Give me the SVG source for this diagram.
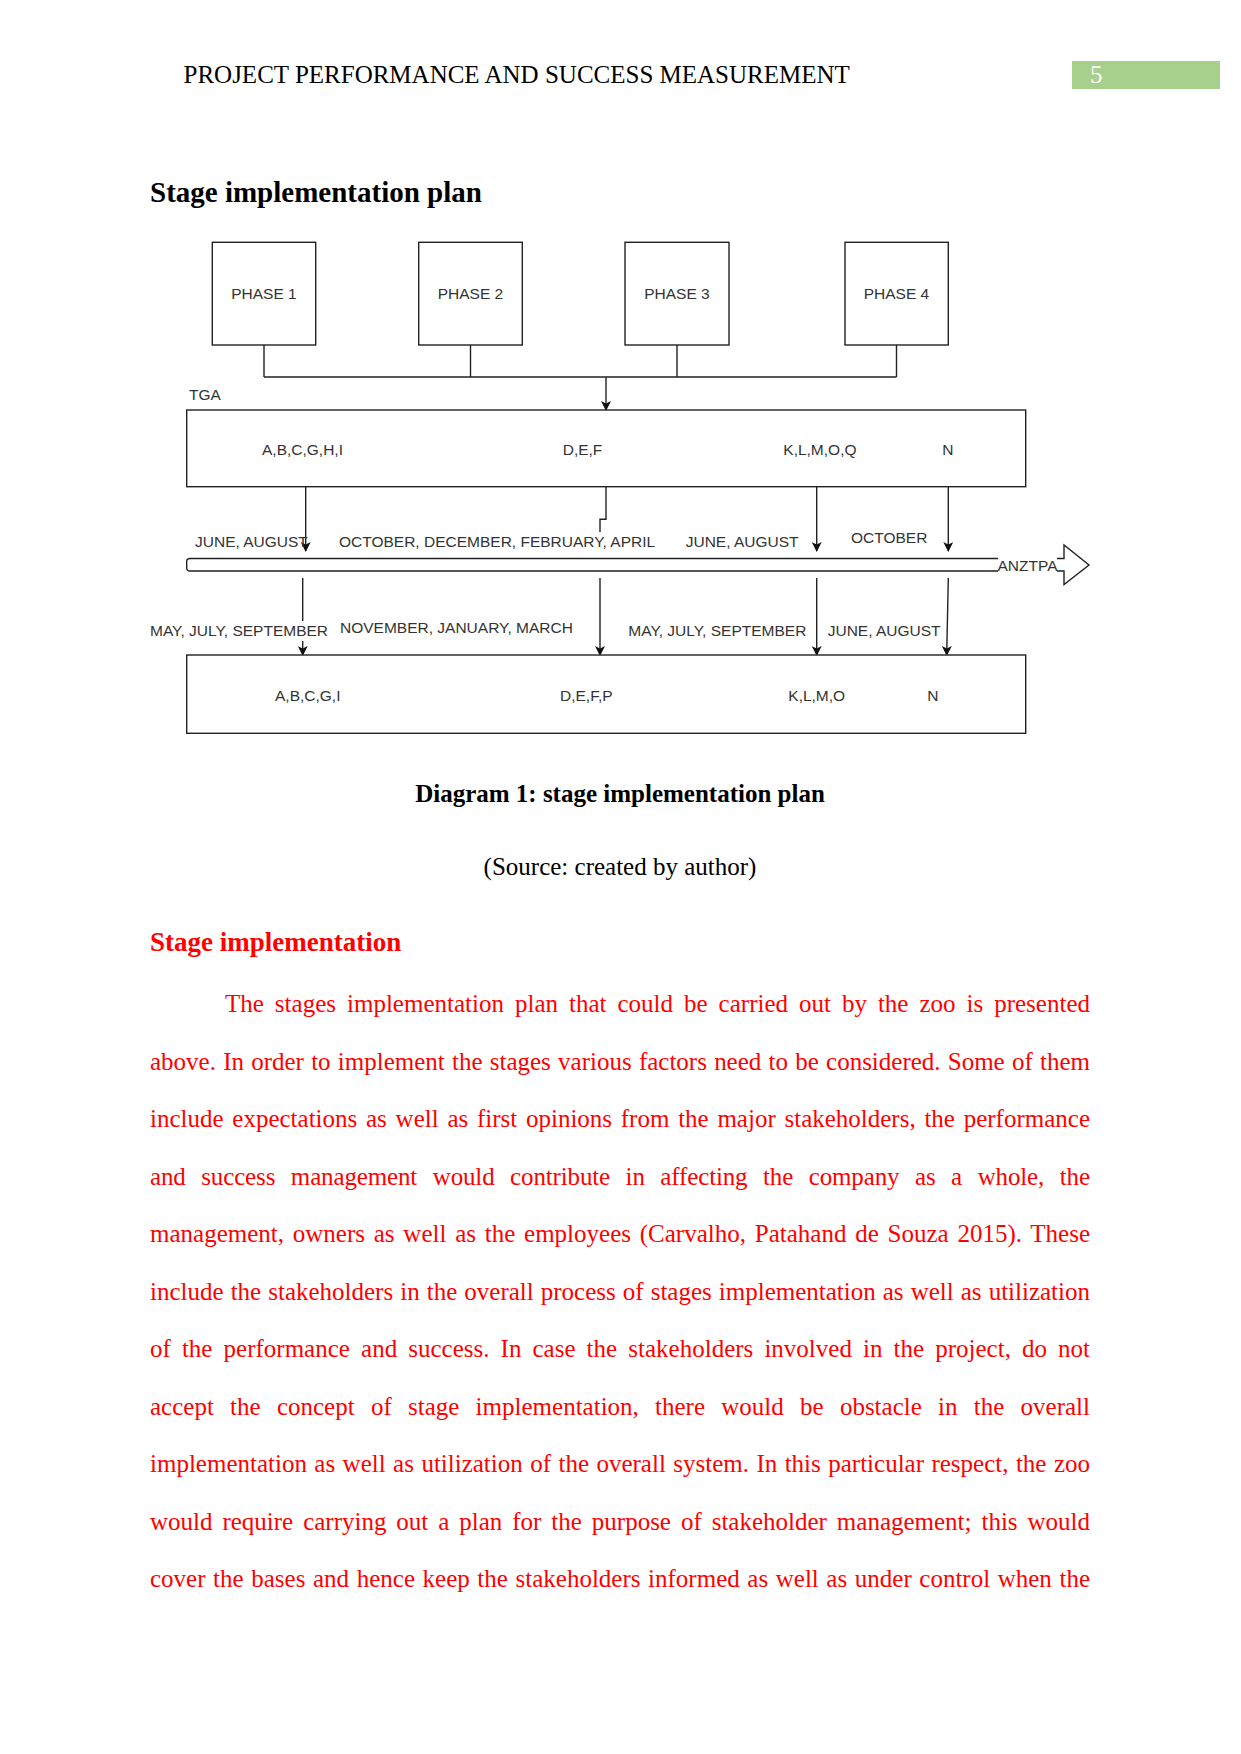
<svg xmlns="http://www.w3.org/2000/svg" width="1241" height="1754" viewBox="0 0 1241 1754">
<defs>
<style>
.serif{font-family:"Liberation Serif","Times New Roman",serif;font-size:25px;fill:#000}
.b{font-weight:bold}
.red{fill:#f00}
.lbl{font-family:"Liberation Sans",Arial,sans-serif;font-size:15.5px;fill:#333}
.box{fill:#fff;stroke:#222;stroke-width:1.4}
.ln{fill:none;stroke:#222;stroke-width:1.4}
.arr{fill:none;stroke:#222;stroke-width:1.4;marker-end:url(#ah)}
.bg{fill:#fff}
</style>
<marker id="ah" viewBox="0 0 10 10" refX="9" refY="5" markerWidth="11" markerHeight="10" markerUnits="userSpaceOnUse" orient="auto">
<path d="M0,0 L10,5 L0,10 L2.5,5 Z" fill="#111"/>
</marker>
</defs>
<rect width="1241" height="1754" fill="#fff"/>

<!-- page header -->
<text class="serif" x="183.5" y="83">PROJECT PERFORMANCE AND SUCCESS MEASUREMENT</text>
<rect x="1072" y="61" width="148" height="28" fill="#a8d08d"/>
<text class="serif" x="1090" y="83" style="fill:#fff">5</text>

<text class="serif b" x="150" y="202" style="font-size:29px">Stage implementation plan</text>

<!-- connectors -->
<g id="connectors">
<path class="ln" d="M264,345 V377 M470.5,345 V377 M677,345 V377 M896.5,345 V377 M264,377 H896.5"/>
<path class="arr" d="M606,377 V410"/>
<path class="arr" d="M305.7,487 V551"/>
<path class="ln" d="M606,487 V519.3 H600 V532"/>
<path class="arr" d="M816.7,487 V551"/>
<path class="arr" d="M948.3,487 V551"/>
<path class="arr" d="M302.7,578 V655"/>
<path class="arr" d="M600,578 V655"/>
<path class="arr" d="M816.7,578 V655"/>
<path class="arr" d="M948.3,578 L946.7,655"/>
</g>

<!-- phase nodes -->
<g id="phase1"><rect class="box" x="212.3" y="242.3" width="103.4" height="102.7"/><text class="lbl" x="264" y="299" text-anchor="middle">PHASE 1</text></g>
<g id="phase2"><rect class="box" x="418.7" y="242.3" width="103.6" height="102.7"/><text class="lbl" x="470.5" y="299" text-anchor="middle">PHASE 2</text></g>
<g id="phase3"><rect class="box" x="625" y="242.3" width="104" height="102.7"/><text class="lbl" x="677" y="299" text-anchor="middle">PHASE 3</text></g>
<g id="phase4"><rect class="box" x="845" y="242.3" width="103.3" height="102.7"/><text class="lbl" x="896.5" y="299" text-anchor="middle">PHASE 4</text></g>

<!-- TGA node -->
<g id="tga">
<text class="lbl" x="189" y="400">TGA</text>
<rect class="box" x="186.7" y="410" width="839" height="76.7"/>
<text class="lbl" x="262" y="455">A,B,C,G,H,I</text>
<text class="lbl" x="562.7" y="455">D,E,F</text>
<text class="lbl" x="783.3" y="455">K,L,M,O,Q</text>
<text class="lbl" x="942.3" y="455">N</text>
</g>

<!-- upper month labels -->
<g id="labels-upper">
<text class="lbl" x="195" y="546.7">JUNE, AUGUST</text>
<rect class="bg" x="337" y="532" width="320" height="20"/>
<text class="lbl" x="339" y="546.7">OCTOBER, DECEMBER, FEBRUARY, APRIL</text>
<text class="lbl" x="685.7" y="546.7">JUNE, AUGUST</text>
<text class="lbl" x="851" y="542.7">OCTOBER</text>
</g>

<!-- timeline arrow (ANZTPA) -->
<g id="timeline">
<path class="box" d="M190,558.5 L1064,558.5 L1064,545 L1089,565 L1064,584.5 L1064,571 L190,571 Q186.7,571 186.7,568 L186.7,561.5 Q186.7,558.5 190,558.5 Z"/>
<rect class="bg" x="998" y="556.5" width="59" height="16.5"/>
<text class="lbl" x="997.5" y="570.5">ANZTPA</text>
</g>

<!-- lower month labels -->
<g id="labels-lower">
<rect class="bg" x="150" y="621" width="180" height="20"/>
<text class="lbl" x="150" y="636">MAY, JULY, SEPTEMBER</text>
<text class="lbl" x="340" y="632.7">NOVEMBER, JANUARY, MARCH</text>
<text class="lbl" x="628.3" y="636">MAY, JULY, SEPTEMBER</text>
<text class="lbl" x="827.7" y="636">JUNE, AUGUST</text>
</g>

<!-- ANZTPA node -->
<g id="anztpa-box">
<rect class="box" x="186.7" y="655" width="839" height="78.3"/>
<text class="lbl" x="275" y="700.7">A,B,C,G,I</text>
<text class="lbl" x="560" y="700.7">D,E,F,P</text>
<text class="lbl" x="788.3" y="700.7">K,L,M,O</text>
<text class="lbl" x="927.3" y="700.7">N</text>
</g>

<text class="serif b" x="620" y="802" text-anchor="middle">Diagram 1: stage implementation plan</text>
<text class="serif" x="620" y="875" text-anchor="middle">(Source: created by author)</text>

<text class="serif b red" x="150" y="951" style="font-size:27px">Stage implementation</text>

<g id="body" class="serif red">
<text class="serif red" x="225" y="1012" word-spacing="4.7" textLength="865" lengthAdjust="spacing">The stages implementation plan that could be carried out by the zoo is presented</text>
<text class="serif red" x="150" y="1069.5" word-spacing="1" textLength="940" lengthAdjust="spacing">above. In order to implement the stages various factors need to be considered. Some of them</text>
<text class="serif red" x="150" y="1127" word-spacing="2.5" textLength="940" lengthAdjust="spacing">include expectations as well as first opinions from the major stakeholders, the performance</text>
<text class="serif red" x="150" y="1184.5" word-spacing="9.5" textLength="940" lengthAdjust="spacing">and success management would contribute in affecting the company as a whole, the</text>
<text class="serif red" x="150" y="1242" word-spacing="2.5" textLength="940" lengthAdjust="spacing">management, owners as well as the employees (Carvalho, Patahand de Souza 2015). These</text>
<text class="serif red" x="150" y="1299.5" word-spacing="0.8" textLength="940" lengthAdjust="spacing">include the stakeholders in the overall process of stages implementation as well as utilization</text>
<text class="serif red" x="150" y="1357" word-spacing="4.8" textLength="940" lengthAdjust="spacing">of the performance and success. In case the stakeholders involved in the project, do not</text>
<text class="serif red" x="150" y="1414.5" word-spacing="10" textLength="940" lengthAdjust="spacing">accept the concept of stage implementation, there would be obstacle in the overall</text>
<text class="serif red" x="150" y="1472" word-spacing="1.2" textLength="940" lengthAdjust="spacing">implementation as well as utilization of the overall system. In this particular respect, the zoo</text>
<text class="serif red" x="150" y="1529.5" word-spacing="3.7" textLength="940" lengthAdjust="spacing">would require carrying out a plan for the purpose of stakeholder management; this would</text>
<text class="serif red" x="150" y="1587" word-spacing="1.3" textLength="940" lengthAdjust="spacing">cover the bases and hence keep the stakeholders informed as well as under control when the</text>
</g>
</svg>
